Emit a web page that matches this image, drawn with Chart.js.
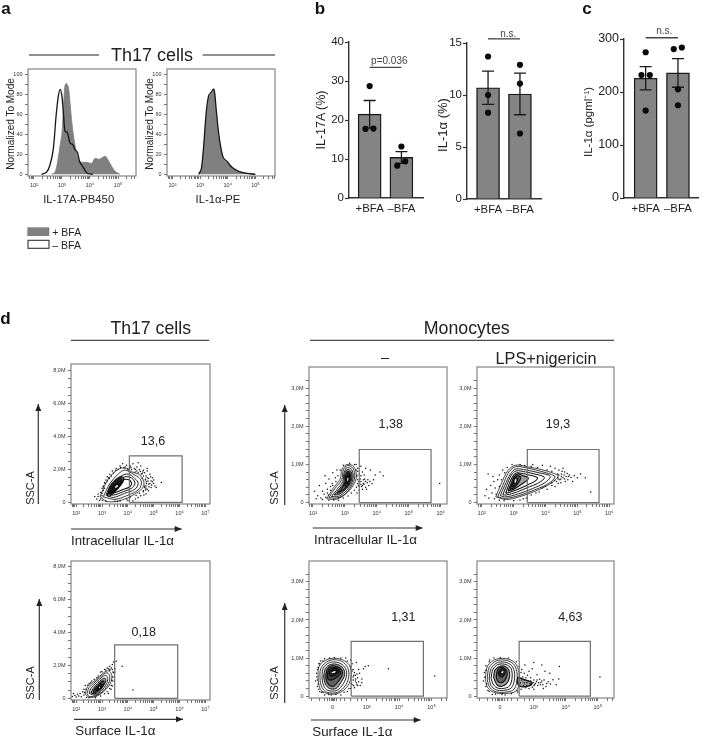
<!DOCTYPE html>
<html lang="en">
  <head>
    <meta charset="UTF-8" />
    <title>Th17 cells and monocytes IL-1α</title>
    <script src="https://cdn.jsdelivr.net/npm/chart.js"></script>
    <style>
      body { margin: 0; background: #fff; }
      #page { position: relative; width: 702px; height: 737px; overflow: hidden; font-family: "Liberation Sans", Arial, sans-serif; color: #222; filter: blur(0.35px); }
      #page canvas, #page svg { position: absolute; }
      .t { position: absolute; white-space: nowrap; line-height: 1; }
    </style>
  </head>
  <body>
    <div id="page"></div>

    <script>
      // bar panels
      const bfaLabels = ["+BFA", "–BFA"];
      const il17Means = [21.5, 10.4];
      const il17Low = [17.9, 8.9];
      const il17High = [25, 11.9];
      const il17Dots = [[0, 28.7], [-0.13, 17.7], [0.12, 17.8], [1, 13.2], [0.87, 8.3], [1.12, 9.4]];
      const il1Means = [10.7, 10.1];
      const il1Low = [9.1, 8.1];
      const il1High = [12.3, 12.1];
      const il1Dots = [[0, 13.7], [0, 10], [0, 8.3], [1, 12.9], [1, 11.1], [1, 6.3]];
      const pgmlMeans = [226, 236];
      const pgmlLow = [204, 209];
      const pgmlHigh = [248, 263];
      const pgmlDots = [[0, 275], [-0.13, 232], [0.13, 232], [0, 165], [0.87, 281], [1.12, 284], [1, 205], [1, 175]];

      // histograms, x is log10 of the intensity
      const il17Grey = [[2.63, 0], [2.75, 2], [2.83, 10], [2.93, 28], [3, 41], [3.05, 65], [3.1, 87], [3.15, 91], [3.23, 87], [3.29, 71], [3.36, 50], [3.46, 30], [3.58, 15], [3.7, 12], [3.88, 12], [4.06, 11], [4.18, 16], [4.33, 15], [4.54, 18], [4.65, 14], [4.77, 8], [4.89, 3], [5.07, 0]];
      const il17Black = [[2.27, 0], [2.45, 2], [2.57, 9], [2.69, 25], [2.79, 58], [2.87, 78], [2.94, 85], [3, 78], [3.05, 62], [3.11, 43], [3.19, 42], [3.29, 31], [3.38, 30], [3.46, 25], [3.55, 22], [3.64, 12], [3.76, 7], [3.9, 1], [4.1, 0]];
      const il1Grey = [[2.96, 0], [3.05, 5], [3.14, 28], [3.23, 60], [3.33, 78], [3.41, 81], [3.5, 83], [3.57, 64], [3.65, 42], [3.74, 26], [3.83, 15], [3.95, 12], [4.13, 7], [4.37, 3], [4.67, 1], [4.97, 0]];
      const il1Black = [[2.94, 0], [3.04, 5], [3.13, 29], [3.22, 62], [3.31, 79], [3.4, 82], [3.5, 85], [3.58, 65], [3.67, 41], [3.76, 25], [3.85, 16], [3.97, 13], [4.15, 7], [4.4, 3], [4.7, 1], [5, 0]];

      // contour outlines, outer ring first
      const d1Contours = [
        [[2.92, 0.34], [3.18, 1.25], [3.5, 1.86], [3.82, 2.1], [4.14, 1.86], [4.46, 1.66], [4.62, 1.25], [4.56, 0.85], [4.2, 0.44], [3.76, 0.14], [3.24, 0.04]],
        [[3.05, 0.34], [3.31, 1.15], [3.63, 1.72], [3.88, 1.96], [4.2, 1.72], [4.46, 1.45], [4.53, 1.15], [4.4, 0.75], [4.01, 0.44], [3.5, 0.18]],
        [[3.15, 0.44], [3.37, 1.15], [3.69, 1.56], [4.01, 1.72], [4.27, 1.45], [4.4, 1.15], [4.27, 0.79], [3.88, 0.55], [3.44, 0.3]],
        [[3.24, 0.55], [3.44, 1.11], [3.72, 1.45], [4.01, 1.56], [4.23, 1.35], [4.27, 1.11], [4.14, 0.85], [3.82, 0.65], [3.44, 0.44]],
        [[3.31, 0.59], [3.5, 1.05], [3.76, 1.35], [4.01, 1.39], [4.14, 1.19], [4.08, 0.95], [3.76, 0.75], [3.5, 0.59]],
        [[3.2, 0.4], [3.3, 0.9], [3.5, 1.3], [3.75, 1.55], [3.85, 1.4], [3.7, 1], [3.5, 0.65], [3.3, 0.38]],
        [[3.25, 0.5], [3.35, 0.9], [3.52, 1.2], [3.72, 1.42], [3.78, 1.25], [3.62, 0.95], [3.45, 0.65]],
        [[3.3, 0.55], [3.4, 0.9], [3.55, 1.15], [3.7, 1.3], [3.7, 1.12], [3.55, 0.85], [3.4, 0.6]],
        [[3.36, 0.65], [3.45, 0.9], [3.58, 1.08], [3.66, 1.15], [3.6, 0.95], [3.46, 0.72]],
      ];
      const d2Contours = [
        [[2.43, 0.1], [2.62, 0.36], [2.85, 0.62], [2.91, 0.88], [3.08, 1], [3.29, 0.93], [3.36, 0.67], [3.26, 0.45], [3.03, 0.23], [2.74, 0.09]],
        [[2.5, 0.13], [2.68, 0.36], [2.9, 0.6], [2.95, 0.85], [3.08, 0.97], [3.25, 0.9], [3.31, 0.67], [3.2, 0.43], [3, 0.22], [2.75, 0.12]],
        [[2.58, 0.16], [2.74, 0.33], [2.93, 0.55], [2.98, 0.8], [3.08, 0.92], [3.22, 0.85], [3.26, 0.65], [3.15, 0.42], [2.98, 0.26], [2.78, 0.16]],
        [[2.66, 0.2], [2.8, 0.33], [2.96, 0.52], [3, 0.75], [3.08, 0.87], [3.2, 0.8], [3.22, 0.63], [3.12, 0.44], [2.96, 0.3], [2.8, 0.21]],
        [[2.75, 0.24], [2.88, 0.35], [3, 0.52], [3.03, 0.72], [3.09, 0.82], [3.17, 0.76], [3.18, 0.6], [3.08, 0.45], [2.95, 0.33]],
        [[3, 0.42], [3.05, 0.68], [3.1, 0.78], [3.15, 0.7], [3.14, 0.55], [3.06, 0.42]],
        [[3.04, 0.5], [3.07, 0.66], [3.11, 0.72], [3.13, 0.65], [3.1, 0.52]],
        [[3.06, 0.55], [3.09, 0.68], [3.12, 0.62], [3.09, 0.53]],
      ];
      const d3Contours = [
        [[2.44, 0.15], [2.61, 0.49], [2.82, 0.84], [3.07, 0.98], [3.48, 0.93], [3.89, 0.86], [4.24, 0.77], [4.4, 0.69], [4.14, 0.49], [3.68, 0.3], [3.17, 0.15], [2.77, 0.08]],
        [[2.5, 0.15], [2.66, 0.45], [2.85, 0.8], [3.07, 0.94], [3.45, 0.9], [3.85, 0.82], [4.2, 0.73], [4.3, 0.67], [4.1, 0.5], [3.65, 0.33], [3.15, 0.18], [2.75, 0.11]],
        [[2.58, 0.18], [2.72, 0.45], [2.9, 0.75], [3.07, 0.88], [3.4, 0.85], [3.8, 0.78], [4.1, 0.72], [4.15, 0.66], [3.98, 0.52], [3.6, 0.37], [3.12, 0.22], [2.75, 0.15]],
        [[2.66, 0.2], [2.78, 0.45], [2.93, 0.72], [3.08, 0.83], [3.38, 0.8], [3.7, 0.74], [3.95, 0.68], [3.95, 0.62], [3.75, 0.5], [3.45, 0.4], [3.08, 0.27], [2.78, 0.2]],
        [[2.75, 0.24], [2.85, 0.47], [2.97, 0.68], [3.1, 0.78], [3.35, 0.75], [3.6, 0.7], [3.75, 0.65], [3.65, 0.55], [3.4, 0.45], [3.05, 0.32]],
        [[2.82, 0.3], [2.92, 0.5], [3.02, 0.68], [3.15, 0.75], [3.3, 0.7], [3.45, 0.66], [3.42, 0.58], [3.25, 0.48], [3, 0.35]],
        [[2.88, 0.35], [2.97, 0.52], [3.05, 0.66], [3.15, 0.7], [3.22, 0.65], [3.15, 0.52], [3, 0.38]],
        [[2.94, 0.42], [3.02, 0.56], [3.09, 0.64], [3.13, 0.62], [3.08, 0.5], [2.98, 0.42]],
      ];
      const d4Contours = [
        [[2.35, 0.26], [2.44, 0.7], [2.74, 1.1], [3.06, 1.55], [3.25, 1.67], [3.38, 1.41], [3.32, 0.91], [3.06, 0.4], [2.74, 0.1], [2.48, 0.08]],
        [[2.42, 0.28], [2.5, 0.65], [2.77, 1.05], [3.05, 1.45], [3.2, 1.55], [3.3, 1.35], [3.25, 0.9], [3.03, 0.42], [2.74, 0.15], [2.5, 0.12]],
        [[2.5, 0.3], [2.57, 0.6], [2.8, 0.98], [3.03, 1.32], [3.15, 1.4], [3.22, 1.22], [3.17, 0.88], [2.98, 0.45], [2.73, 0.2]],
        [[2.57, 0.33], [2.65, 0.58], [2.83, 0.9], [3.02, 1.18], [3.12, 1.22], [3.15, 1.08], [3.08, 0.82], [2.93, 0.47], [2.73, 0.27]],
        [[2.65, 0.38], [2.72, 0.58], [2.87, 0.83], [3, 1.02], [3.07, 1.05], [3.07, 0.88], [2.97, 0.65], [2.85, 0.47], [2.72, 0.33]],
        [[2.72, 0.44], [2.8, 0.6], [2.9, 0.78], [2.98, 0.88], [3.01, 0.8], [2.95, 0.63], [2.83, 0.48]],
        [[2.8, 0.52], [2.87, 0.66], [2.93, 0.74], [2.96, 0.68], [2.88, 0.55]],
      ];
      const d5Contours = [
        [[1.5, 0.4], [1.53, 0.79], [1.81, 0.97], [2.16, 0.98], [2.45, 0.83], [2.52, 0.57], [2.42, 0.27], [2.11, 0.07], [1.76, 0.07], [1.57, 0.18]],
        [[1.56, 0.4], [1.58, 0.72], [1.83, 0.93], [2.15, 0.94], [2.38, 0.8], [2.45, 0.57], [2.36, 0.3], [2.1, 0.1], [1.78, 0.1], [1.62, 0.22]],
        [[1.62, 0.45], [1.65, 0.72], [1.85, 0.88], [2.12, 0.88], [2.32, 0.76], [2.38, 0.57], [2.28, 0.33], [2.08, 0.15], [1.8, 0.15], [1.67, 0.27]],
        [[1.67, 0.5], [1.72, 0.72], [1.88, 0.83], [2.1, 0.83], [2.27, 0.73], [2.32, 0.57], [2.22, 0.38], [2.05, 0.2], [1.85, 0.2], [1.72, 0.32]],
        [[1.73, 0.5], [1.78, 0.7], [1.9, 0.79], [2.08, 0.78], [2.22, 0.7], [2.25, 0.58], [2.15, 0.42], [2, 0.27], [1.87, 0.27], [1.77, 0.37]],
        [[1.78, 0.55], [1.83, 0.69], [1.95, 0.75], [2.08, 0.74], [2.18, 0.66], [2.18, 0.58], [2.05, 0.48], [1.9, 0.42], [1.8, 0.45]],
        [[1.83, 0.58], [1.9, 0.69], [2, 0.72], [2.1, 0.7], [2.13, 0.63], [2.03, 0.56], [1.9, 0.52]],
        [[1.9, 0.6], [1.97, 0.67], [2.05, 0.67], [2.08, 0.63], [2, 0.59]],
      ];
      const d6Contours = [
        [[1.48, 0.44], [1.55, 0.79], [1.82, 0.97], [2.2, 0.97], [2.45, 0.83], [2.55, 0.49], [2.45, 0.14], [2.09, 0.07], [1.74, 0.1], [1.55, 0.23]],
        [[1.54, 0.44], [1.6, 0.75], [1.84, 0.93], [2.18, 0.93], [2.4, 0.8], [2.48, 0.5], [2.38, 0.18], [2.08, 0.1], [1.76, 0.13], [1.6, 0.26]],
        [[1.6, 0.45], [1.66, 0.72], [1.86, 0.88], [2.15, 0.88], [2.34, 0.76], [2.4, 0.5], [2.3, 0.22], [2.06, 0.15], [1.8, 0.17], [1.66, 0.28]],
        [[1.66, 0.47], [1.72, 0.7], [1.88, 0.83], [2.12, 0.83], [2.28, 0.73], [2.32, 0.5], [2.24, 0.27], [2.04, 0.2], [1.84, 0.22], [1.72, 0.32]],
        [[1.74, 0.48], [1.78, 0.68], [1.92, 0.78], [2.1, 0.78], [2.22, 0.68], [2.24, 0.5], [2.14, 0.32], [2, 0.26], [1.86, 0.28]],
        [[1.82, 0.5], [1.86, 0.68], [1.96, 0.75], [2.08, 0.73], [2.16, 0.64], [2.14, 0.48], [2.02, 0.36], [1.88, 0.38]],
        [[1.88, 0.58], [1.93, 0.68], [2.02, 0.72], [2.1, 0.67], [2.08, 0.56], [1.98, 0.5]],
        [[1.93, 0.6], [2, 0.67], [2.05, 0.65], [2.03, 0.58], [1.97, 0.56]],
        [[2.5, 0.5], [2.75, 0.42], [2.95, 0.35], [2.85, 0.27], [2.6, 0.25], [2.48, 0.35]],
      ];

      // pale spots in the middle of the densest rings
      const d1Hole = [[3.5, 0.95], [3.6, 1.05], [3.62, 0.98], [3.52, 0.88]];
      const d2Hole = [[3.07, 0.6], [3.09, 0.66], [3.11, 0.62], [3.09, 0.56]];
      const d3Hole = [[3.02, 0.55], [3.06, 0.62], [3.09, 0.6], [3.05, 0.52]];
      const d4Hole = [[2.88, 0.66], [2.9, 0.7], [2.93, 0.68], [2.9, 0.63]];
      const d5Hole = [[1.9, 0.61], [1.98, 0.65], [2.05, 0.65], [2, 0.61]];
      const d6Hole = [[1.98, 0.62], [2.02, 0.66], [2.05, 0.64], [2.01, 0.6]];

      // single events outside the outer ring
      const d1Dots = [[2.72, 0.35], [2.8, 0.2], [2.85, 0.5], [2.9, 0.12], [2.95, 0.6], [3, 0.85], [3.05, 0.95], [3.1, 1.2], [3.15, 1.35], [3.25, 1.5], [3.3, 1.7], [3.4, 1.9], [3.55, 2.05], [3.7, 2.2], [3.8, 2.35], [3.95, 2.25], [4.1, 2.2], [4.25, 2.05], [4.35, 2.15], [4.45, 2], [4.5, 2.2], [4.6, 1.95], [4.65, 1.8], [4.7, 1.6], [4.75, 1.9], [4.8, 1.45], [4.85, 1.7], [4.9, 1.3], [4.95, 1.5], [5, 1.15], [5.05, 1], [5.1, 0.9], [4.9, 0.9], [4.8, 0.7], [4.7, 0.5], [4.6, 0.65], [4.5, 0.4], [4.4, 0.3], [4.3, 0.2], [4.65, 1], [4.72, 1.15], [4.55, 1.75], [4.35, 1.9], [4, 2.05], [3.85, 2.1], [5.3, 1.2], [4.2, 2.35], [4.4, 2.4], [4.75, 2.05], [4.2, 0.1], [4, 0.12], [3.6, 0.05], [4.85, 1.15], [4.95, 1.25], [4.78, 1.3], [4.68, 1.4], [4.88, 1.55], [4.7, 0.85], [4.62, 0.45], [3.2, 1.55], [3.1, 0.85], [3, 0.4],
        [3.05, 1], [3.12, 1.15], [3.2, 1.3], [3.28, 1.45], [3.36, 1.6], [3.44, 1.78], [3.52, 1.95], [3.62, 2], [3.72, 2.12], [3.9, 2.15], [4.05, 2], [4.15, 1.98], [4.28, 1.85], [4.4, 1.8], [4.52, 1.72], [4.6, 1.6], [4.68, 1.35], [4.72, 1.25], [4.7, 1], [4.68, 0.75], [4.6, 0.7], [4.45, 0.55], [4.32, 0.42], [4.1, 0.32], [3.95, 0.2], [3.7, 0.08], [3.5, 0.06], [3.15, 0.05], [3.02, 0.12], [2.95, 0.2], [2.85, 0.35], [3, 0.55], [3.05, 0.72], [4.55, 1.45], [4.75, 1.5], [4.58, 1.85], [4.48, 1.88], [4.3, 2], [4.12, 2.1], [4.8, 1.1], [4.82, 0.95], [4.75, 0.8], [4.92, 1.05], [5, 1.35], [4.65, 0.9]];
      const d2Dots = [[2.1, 0.1], [2.05, 0.3], [2.15, 0.18], [2.2, 0.45], [2.25, 0.12], [2.3, 0.3], [2.35, 0.22], [2.4, 0.5], [2.45, 0.35], [2.5, 0.62], [2.38, 0.7], [2.6, 0.5], [2.55, 0.42], [2.7, 0.65], [2.62, 0.78], [2.75, 0.85], [2.3, 0.08], [2.48, 0.2], [3.4, 0.9], [3.45, 0.75], [3.5, 0.95], [3.55, 0.8], [3.6, 0.72], [3.65, 0.9], [3.72, 0.6], [3.8, 0.85], [3.4, 0.5], [3.45, 0.42], [3.5, 0.55], [3.55, 0.35], [3.6, 0.48], [3.65, 0.4], [3.7, 0.52], [3.75, 0.45], [3.85, 0.5], [3.9, 0.6], [3.45, 0.32], [3.38, 0.25], [3.95, 0.72], [4.1, 0.8], [4.2, 0.7], [5.97, 0.5], [3.35, 1], [3.48, 0.62], [3.58, 0.6], [3.62, 0.62],
        [3.38, 0.7], [3.4, 0.6], [3.4, 0.82], [3.35, 0.85], [3.42, 0.45], [3.36, 0.4], [3.3, 0.32], [3.2, 0.25], [3.1, 0.17], [2.95, 0.12], [2.8, 0.06], [2.65, 0.07], [2.5, 0.06], [2.4, 0.14], [2.45, 0.25], [2.55, 0.32], [2.62, 0.45], [2.72, 0.55], [2.78, 0.7], [2.85, 0.85], [2.95, 0.98], [3.15, 1.03], [3.3, 1], [3.5, 0.7], [3.52, 0.42], [3.58, 0.5], [3.65, 0.55], [3.68, 0.35], [3.78, 0.55], [3.44, 0.55], [3.5, 0.48], [3.55, 0.45]];
      const d3Dots = [[2.1, 0.18], [2.15, 0.35], [2.22, 0.12], [2.28, 0.45], [2.32, 0.25], [2.38, 0.55], [2.42, 0.38], [2.5, 0.6], [2.55, 0.72], [2.35, 0.68], [2.66, 0.85], [2.2, 0.75], [4.45, 0.6], [4.5, 0.75], [4.55, 0.65], [4.6, 0.8], [4.65, 0.68], [4.7, 0.6], [4.75, 0.72], [4.8, 0.66], [4.85, 0.55], [4.9, 0.7], [5, 0.65], [4.42, 0.85], [4.3, 0.9], [4.15, 0.95], [3.9, 0.98], [3.6, 1], [3.7, 0.25], [3.9, 0.38], [4.05, 0.35], [4.2, 0.45], [4.3, 0.42], [4.4, 0.5], [3.4, 0.12], [3.2, 0.07], [5.42, 0.28], [5.1, 0.75], [5.25, 0.65], [4.55, 0.9], [4.48, 0.52], [4.35, 0.55],
        [2.4, 0.1], [2.45, 0.22], [2.55, 0.42], [2.62, 0.6], [2.72, 0.78], [2.8, 0.92], [2.95, 1], [3.2, 1], [3.35, 0.97], [3.55, 0.95], [3.75, 0.92], [4.05, 0.85], [4.2, 0.82], [4.38, 0.75], [4.5, 0.68], [4.6, 0.62], [4.72, 0.68], [4.48, 0.62], [4.58, 0.72], [4.4, 0.62], [4.28, 0.58], [4.2, 0.52], [4, 0.42], [3.8, 0.28], [3.55, 0.2], [3.3, 0.1], [3, 0.05], [2.7, 0.05], [2.55, 0.06], [4.42, 0.72], [4.52, 0.82], [4.68, 0.76], [4.38, 0.66], [4.62, 0.55]];
      const d4Dots = [[1.85, 0.12], [1.9, 0.3], [1.95, 0.18], [2, 0.08], [2.05, 0.25], [2.1, 0.15], [2.15, 0.3], [2.2, 0.1], [2.25, 0.4], [2.3, 0.55], [2.35, 0.78], [2.5, 0.88], [2.6, 1.05], [2.8, 1.25], [2.95, 1.6], [3.1, 1.75], [3.2, 1.85], [3.3, 1.95], [3.4, 2.05], [3.45, 2.2], [3.5, 1.8], [3.45, 1.55], [3.48, 1.3], [3.42, 1.05], [3.4, 0.75], [3.35, 0.55], [3.25, 0.3], [3.55, 2.25], [3.78, 1.95], [4.2, 0.5], [3.3, 1.75], [3.5, 1.6],
        [2.3, 0.2], [2.32, 0.35], [2.38, 0.55], [2.45, 0.8], [2.55, 0.95], [2.7, 1.15], [2.85, 1.35], [3, 1.62], [3.15, 1.72], [3.3, 1.7], [3.42, 1.6], [3.42, 1.3], [3.38, 1.1], [3.36, 0.8], [3.3, 0.6], [3.2, 0.4], [3.1, 0.28], [2.95, 0.15], [2.75, 0.04], [2.5, 0.03], [2.4, 0.05], [3.36, 1.85], [3.4, 1.75], [3.25, 1.8]];
      const d5Dots = [[1.42, 0.4], [1.45, 0.6], [1.48, 0.25], [1.5, 0.75], [1.52, 0.18], [1.55, 0.85], [1.6, 0.1], [1.65, 0.92], [1.7, 0.03], [1.9, 0.03], [2.2, 0.03], [2.4, 0.12], [2.5, 0.2], [2.55, 0.3], [2.58, 0.42], [2.6, 0.55], [2.58, 0.7], [2.55, 0.85], [2.5, 0.95], [2.7, 0.3], [2.65, 0.4], [2.75, 0.38], [2.8, 0.28], [2.72, 0.48], [2.85, 0.45], [2.9, 0.72], [2.95, 0.78], [2.62, 0.22], [2.78, 0.6], [3.05, 0.8], [3.67, 0.72], [5.1, 0.53], [2.35, 1], [2.68, 0.88],
        [1.46, 0.5], [1.48, 0.7], [1.5, 0.32], [1.52, 0.85], [1.58, 0.92], [1.7, 0.98], [1.85, 1], [2, 1.01], [2.2, 1], [2.4, 0.92], [2.5, 0.78], [2.55, 0.66], [2.58, 0.5], [2.52, 0.33], [2.45, 0.2], [2.3, 0.1], [2.05, 0.04], [1.82, 0.04], [1.65, 0.1], [1.55, 0.12], [1.48, 0.42], [2.62, 0.62], [2.68, 0.35], [2.66, 0.45], [2.72, 0.28], [2.6, 0.27], [2.65, 0.55], [2.75, 0.7], [2.85, 0.35], [2.7, 0.58]];
      const d6Dots = [[1.42, 0.4], [1.45, 0.62], [1.5, 0.25], [1.5, 0.8], [1.56, 0.15], [1.6, 0.9], [1.7, 0.04], [2.1, 0.03], [2.5, 0.1], [2.6, 0.18], [2.65, 0.5], [2.7, 0.6], [2.75, 0.22], [2.8, 0.55], [2.85, 0.2], [2.9, 0.48], [2.95, 0.23], [3, 0.42], [3.02, 0.3], [3.08, 0.38], [3.12, 0.28], [3.18, 0.44], [3.22, 0.35], [3.28, 0.3], [3.32, 0.42], [3.38, 0.25], [3.45, 0.38], [3.52, 0.32], [3.6, 0.43], [3.7, 0.3], [3.78, 0.45], [2.72, 0.82], [2.95, 0.72], [3, 0.88], [3.25, 0.82], [3.5, 0.6], [3.8, 0.78], [3.35, 0.65], [3.1, 0.56], [2.85, 0.65], [2.62, 0.7], [5.07, 0.5], [2.58, 0.35], [2.68, 0.28], [2.78, 0.35], [3, 0.18], [3.3, 0.2],
        [1.46, 0.5], [1.5, 0.68], [1.52, 0.32], [1.6, 0.12], [1.62, 0.95], [1.75, 1], [1.95, 1.01], [2.2, 1], [2.45, 0.9], [2.55, 0.78], [2.6, 0.62], [2.62, 0.42], [2.55, 0.25], [2.48, 0.14], [2.3, 0.06], [2, 0.04], [1.8, 0.05], [2.7, 0.35], [2.75, 0.48], [2.82, 0.4], [2.88, 0.33], [2.92, 0.3], [2.98, 0.36], [3.05, 0.33], [3.1, 0.42], [3.15, 0.35], [3.2, 0.3], [3.25, 0.4], [3.4, 0.33], [2.7, 0.42], [2.78, 0.28], [2.9, 0.4], [3, 0.27]];

      // gates, [xLeft, xRight, yTop]
      const d1Gate = [4.06, 6.1, 2.82];
      const d2Gate = [3.45, 5.7, 1.39];
      const d3Gate = [3.43, 5.68, 1.39];
      const d4Gate = [3.49, 5.93, 3.25];
      const d5Gate = [2.52, 4.75, 1.44];
      const d6Gate = [2.54, 4.77, 1.44];

      // tick labels
      const pctTicks = [0, 20, 40, 60, 80, 100];
      const ssc8Ticks = { 0: "0", 2: "2,0M", 4: "4,0M", 6: "6,0M", 8: "8,0M" };
      const ssc3Ticks = { 0: "0", 1: "1,0M", 2: "2,0M", 3: "3,0M" };
      const logLabels = { 2: "10²", 3: "10³", 4: "10⁴", 5: "10⁵", 6: "10⁶", 7: "10⁷" };
      const biexLabels = { 1.94: "0", 3: "10³", 4: "10⁴", 5: "10⁵" };
      const biexNearZero = [1.3, 1.55, 1.7, 1.8, 1.86, 1.9, 1.94, 1.98, 2.02, 2.08, 2.18, 2.3, 2.5, 2.7, 2.85];

      const page = document.getElementById("page");
      const FONT = '"Liberation Sans", Arial, sans-serif';
      Chart.defaults.font.family = FONT;
      Chart.defaults.animation = false;
      Chart.defaults.responsive = false;

      const text = (str, x, y, size, opts = {}) => {
        const el = document.createElement("div");
        el.className = "t";
        el.textContent = str;
        const anchor = opts.left ? "0" : "-50%";
        const rot = opts.rotate ? " rotate(-90deg)" : "";
        el.style.cssText = `left:${x}px;top:${y}px;font-size:${size}px;transform:translate(${anchor},-50%)${rot};` +
          (opts.bold ? "font-weight:bold;color:#111;" : "") + (opts.color ? `color:${opts.color};` : "");
        page.appendChild(el);
      };

      const newCanvas = (x, y, w, h) => {
        const c = document.createElement("canvas");
        c.width = w;
        c.height = h;
        c.style.left = x + "px";
        c.style.top = y + "px";
        page.appendChild(c);
        return c;
      };

      const xy = (pts) => pts.map((p) => ({ x: p[0], y: p[1] }));
      const closed = (pts) => xy([...pts, pts[0]]);

      // stops chart.js insetting the plot for tick label overhang
      const fixSize = (scale, prop, value) => {
        scale[prop] = value;
        scale.paddingTop = scale.paddingBottom = scale.paddingLeft = scale.paddingRight = 0;
      };

      const framePlugin = {
        id: "frame",
        afterDatasetsDraw(chart) {
          const { ctx, chartArea: a } = chart;
          ctx.save();
          ctx.strokeStyle = "#7a7a7a";
          ctx.lineWidth = 1.1;
          ctx.strokeRect(a.left, a.top, a.right - a.left, a.bottom - a.top);
          ctx.restore();
        },
      };

      const logTicks = (min, max) => {
        const out = [];
        for (let d = Math.floor(min); d <= max; d++) {
          for (let k = 1; k < 10; k++) {
            const v = d + Math.log10(k);
            if (v >= min && v <= max) out.push(k === 1 ? d : v);
          }
        }
        return out;
      };

      const flowChart = (box, xr, yr, xTicks, xLabels, yTicks, yLabels, datasets) => {
        const m = { l: 30, t: 6, r: 6, b: 22 };
        const c = newCanvas(box[0] - m.l, box[1] - m.t, box[2] - box[0] + m.l + m.r, box[3] - box[1] + m.t + m.b);
        return new Chart(c, {
          type: "scatter",
          data: { datasets },
          options: {
            layout: { padding: { top: m.t, right: m.r } },
            plugins: { legend: { display: false }, tooltip: { enabled: false } },
            scales: {
              x: {
                type: "linear", min: xr[0], max: xr[1],
                grid: { drawOnChartArea: false, tickLength: 3, tickColor: "#333", tickWidth: 0.7 },
                border: { display: false },
                ticks: { autoSkip: false, maxRotation: 0, padding: 3, color: "#333", font: { size: 5.5 }, callback: (v) => xLabels[v] ?? "" },
                afterBuildTicks: (s) => { s.ticks = xTicks.map((value) => ({ value })); },
                afterFit: (s) => fixSize(s, "height", m.b),
              },
              y: {
                type: "linear", min: yr[0], max: yr[1],
                grid: { drawOnChartArea: false, tickLength: 3, tickColor: "#333", tickWidth: 0.7 },
                border: { display: false },
                ticks: { autoSkip: false, padding: 2.5, color: "#333", font: { size: 5.5 }, callback: (v) => yLabels[v] ?? "" },
                afterBuildTicks: (s) => { s.ticks = yTicks.map((value) => ({ value })); },
                afterFit: (s) => fixSize(s, "width", m.l),
              },
            },
          },
          plugins: [framePlugin],
        });
      };

      const histSets = (grey, black, withWhite) => {
        const sets = [
          { type: "line", data: xy(black), borderColor: "#151515", borderWidth: 1.3, pointRadius: 0, tension: 0.3, fill: false },
          { type: "line", data: xy(grey), borderColor: "#7d7d7d", borderWidth: 0.8, backgroundColor: "#808080", pointRadius: 0, tension: 0.3, fill: "origin" },
        ];
        if (withWhite) {
          sets.push({ type: "line", data: xy(black), borderColor: "#fff", borderWidth: 0, backgroundColor: "#fff", pointRadius: 0, tension: 0.3, fill: "origin" });
        }
        return sets;
      };

      // first dataset is painted last, so the innermost ring goes first
      const flowSets = (gate, dots, contours, coreFrom, hole) => [
        { data: closed(hole), showLine: true, tension: 0.35, pointRadius: 0, borderWidth: 0, backgroundColor: "#fff", fill: "shape" },
        { data: closed([[gate[0], 0], [gate[1], 0], [gate[1], gate[2]], [gate[0], gate[2]]]), showLine: true, borderColor: "#707070", borderWidth: 1.2, pointRadius: 0 },
        ...contours.map((ring, i) => ({
          data: closed(ring), showLine: true, tension: 0.35, pointRadius: 0,
          borderColor: "#0e0e0e", borderWidth: 0.75 + i * 0.08,
          fill: i >= coreFrom ? "shape" : false, backgroundColor: "rgba(0,0,0,0.38)",
        })).reverse(),
        { data: xy(dots), pointRadius: 0.75, pointBorderWidth: 0, pointBackgroundColor: "#111" },
      ];

      const errorPlugin = (low, high) => ({
        id: "errorBars",
        afterDatasetDraw(chart, args) {
          if (args.meta.type !== "bar") return;
          const { ctx, scales } = chart;
          ctx.save();
          ctx.strokeStyle = "#1a1a1a";
          ctx.lineWidth = 1.3;
          low.forEach((lo, i) => {
            const x = scales.x.getPixelForValue(i);
            const y0 = scales.y.getPixelForValue(lo);
            const y1 = scales.y.getPixelForValue(high[i]);
            ctx.beginPath();
            ctx.moveTo(x, y0); ctx.lineTo(x, y1);
            ctx.moveTo(x - 6, y0); ctx.lineTo(x + 6, y0);
            ctx.moveTo(x - 6, y1); ctx.lineTo(x + 6, y1);
            ctx.stroke();
          });
          ctx.restore();
        },
      });

      const barChart = (box, xr, yMax, yStep, yFont, means, low, high, dots, bracketY) => {
        const m = { l: 32, t: 14, b: 26 };
        const c = newCanvas(box[0] - m.l, box[1] - m.t, box[2] - box[0] + m.l, box[3] - box[1] + m.t + m.b);
        return new Chart(c, {
          data: {
            datasets: [
              { type: "scatter", data: xy(dots), pointRadius: 3.1, pointBackgroundColor: "#0a0a0a", pointBorderWidth: 0, clip: false },
              { type: "scatter", data: xy([[0, bracketY], [1, bracketY]]), showLine: true, borderColor: "#444", borderWidth: 1.3, pointRadius: 0, clip: false },
              { type: "bar", data: xy(means.map((v, i) => [i, v])), backgroundColor: "#848484", borderColor: "#1a1a1a", borderWidth: 1.4, barThickness: 23 },
            ],
          },
          options: {
            layout: { padding: { top: m.t } },
            plugins: { legend: { display: false }, tooltip: { enabled: false } },
            scales: {
              x: {
                type: "linear", min: xr[0], max: xr[1], offset: false,
                grid: { drawOnChartArea: false, drawTicks: false, offset: false },
                border: { color: "#333", width: 1.4 },
                ticks: { padding: 4, color: "#222", font: { size: 11.4 }, maxRotation: 0, autoSkip: false, callback: (v) => bfaLabels[v] ?? "" },
                afterBuildTicks: (s) => { s.ticks = [{ value: 0 }, { value: 1 }]; },
                afterFit: (s) => fixSize(s, "height", m.b),
              },
              y: {
                type: "linear", min: 0, max: yMax,
                grid: { drawOnChartArea: false, tickLength: 4, tickColor: "#333", tickWidth: 1.2 },
                border: { color: "#333", width: 1.4 },
                ticks: { stepSize: yStep, padding: 1, color: "#222", font: { size: yFont } },
                afterFit: (s) => fixSize(s, "width", m.l),
              },
            },
          },
          plugins: [errorPlugin(low, high)],
        });
      };

      // panel a
      const aTicksY = [];
      for (let v = 0; v <= 105; v += 10) aTicksY.push(v);
      const pctLabels = Object.fromEntries(pctTicks.map((v) => [v, String(v)]));
      const a1Range = [1.79, 5.64];
      const a2Range = [1.8, 5.71];
      flowChart([28, 69, 136.3, 176.7], a1Range, [-1.7, 105.3], logTicks(...a1Range), logLabels, aTicksY, pctLabels, histSets(il17Grey, il17Black, true));
      flowChart([166.7, 69, 275.3, 176.7], a2Range, [-1.7, 105.3], logTicks(...a2Range), logLabels, aTicksY, pctLabels, histSets(il1Grey, il1Black, false));

      // panel b and c
      barChart([349, 42.3, 427, 199], [-0.65, 1.68], 40, 10, 11.5, il17Means, il17Low, il17High, il17Dots, 33.5);
      barChart([467.3, 43.3, 545.7, 199.3], [-0.66, 1.66], 15, 5, 11.5, il1Means, il1Low, il1High, il1Dots, 15.4);
      barChart([624, 39, 702, 198.7], [-0.67, 1.62], 300, 100, 12.5, pgmlMeans, pgmlLow, pgmlHigh, pgmlDots, 302.4);

      // panel d
      const ssc8Y = [];
      for (let v = 0; v <= 8; v += 0.5) ssc8Y.push(v);
      const ssc3Y = [];
      for (let v = 0; v <= 3.4; v += 0.2) ssc3Y.push(Math.round(v * 10) / 10);
      const d1Range = [1.8, 7.18];
      const d2Range = [1.875, 6.2];
      const d3Range = [1.85, 6.15];
      const biexMinor = biexNearZero.concat(logTicks(3, 5.48));
      flowChart([71, 364, 210.7, 504], d1Range, [-0.1, 8.4], logTicks(...d1Range), logLabels, ssc8Y, ssc8Ticks, flowSets(d1Gate, d1Dots, d1Contours, 5, d1Hole));
      flowChart([309.3, 366.7, 447.3, 503.7], d2Range, [-0.037, 3.55], logTicks(...d2Range), logLabels, ssc3Y, ssc3Ticks, flowSets(d2Gate, d2Dots, d2Contours, 3, d2Hole));
      flowChart([477, 366.7, 614.7, 503.7], d3Range, [-0.037, 3.55], logTicks(...d3Range), logLabels, ssc3Y, ssc3Ticks, flowSets(d3Gate, d3Dots, d3Contours, 5, d3Hole));
      flowChart([71, 560.7, 210.7, 700], d1Range, [-0.1, 8.34], logTicks(...d1Range), logLabels, ssc8Y, ssc8Ticks, flowSets(d4Gate, d4Dots, d4Contours, 3, d4Hole));
      flowChart([309.3, 561.3, 447.3, 699], [1.217, 5.48], [-0.05, 3.55], biexMinor, biexLabels, ssc3Y, ssc3Ticks, flowSets(d5Gate, d5Dots, d5Contours, 3, d5Hole));
      flowChart([477, 561.3, 614.7, 699], [1.22, 5.51], [-0.05, 3.55], biexMinor, biexLabels, ssc3Y, ssc3Ticks, flowSets(d6Gate, d6Dots, d6Contours, 4, d6Hole));

      // rules and arrows on top of the charts
      const rules = [[29, 55, 99, 55], [202.7, 55, 275, 55], [71, 340.3, 209.3, 340.3], [310, 340.3, 614, 340.3]];
      const arrows = [
        [38.3, 504, 38.3, 404], [71, 529, 181.7, 529], [284.7, 505, 284.7, 405], [312.7, 528, 422.7, 528],
        [39.3, 700, 39.3, 599], [74, 719.3, 183, 719.3], [284.7, 703, 284.7, 603], [311, 720, 420.7, 720],
      ];
      let svg = '<svg width="702" height="737" style="left:0;top:0">';
      rules.forEach(([a, b, c, d]) => { svg += `<line x1="${a}" y1="${b}" x2="${c}" y2="${d}" stroke="#222" stroke-width="1"/>`; });
      arrows.forEach(([a, b, c, d]) => {
        svg += `<line x1="${a}" y1="${b}" x2="${c}" y2="${d}" stroke="#333" stroke-width="1.2"/>`;
        svg += a === c
          ? `<polygon points="${c - 3},${d + 7} ${c + 3},${d + 7} ${c},${d}" fill="#222"/>`
          : `<polygon points="${c - 7},${d - 3} ${c - 7},${d + 3} ${c},${d}" fill="#222"/>`;
      });
      svg += '<rect x="27.3" y="227.3" width="22" height="8.7" fill="#808080"/>';
      svg += '<rect x="28" y="240.3" width="21" height="8" fill="#fff" stroke="#333" stroke-width="1.1"/>';
      svg += "</svg>";
      page.insertAdjacentHTML("beforeend", svg);

      // panel letters
      text("a", 6, 8, 17, { bold: true });
      text("b", 320, 8, 17, { bold: true });
      text("c", 587, 8, 17, { bold: true });
      text("d", 5.5, 318, 17, { bold: true });

      // panel a text
      text("Th17 cells", 152, 54.5, 18);
      text("Normalized To Mode", 10.7, 124, 10, { rotate: true });
      text("Normalized To Mode", 150, 124, 10, { rotate: true });
      text("IL-17A-PB450", 78.7, 200, 11.3);
      text("IL-1α-PE", 218, 200, 11.3);
      text("+ BFA", 52.3, 232, 10.5, { left: true });
      text("– BFA", 52.3, 244.5, 10.5, { left: true });

      // panel b and c text
      text("IL-17A (%)", 320.7, 120, 12.5, { rotate: true });
      text("IL-1α (%)", 441.7, 125, 13, { rotate: true });
      text("IL-1α (pgml⁻¹)", 589, 122, 11.5, { rotate: true });
      text("p=0.036", 389.3, 60.7, 10, { color: "#444" });
      text("n.s.", 508.3, 34.3, 10, { color: "#444" });
      text("n.s.", 664.3, 31, 10, { color: "#444" });

      // panel d text
      text("Th17 cells", 150.7, 329, 17.7);
      text("Monocytes", 466.7, 329, 17.8);
      text("–", 385, 357, 14.5);
      text("LPS+nigericin", 546, 357.7, 16.3);
      text("13,6", 153, 440.7, 12.5);
      text("1,38", 390.7, 423.7, 12.5);
      text("19,3", 558, 423.7, 12.5);
      text("0,18", 143.7, 631.7, 12.5);
      text("1,31", 403.3, 617, 12.5);
      text("4,63", 570.3, 617, 12.5);
      text("SSC-A", 30, 487.7, 11, { rotate: true });
      text("SSC-A", 274, 488, 11, { rotate: true });
      text("SSC-A", 30, 682.7, 11, { rotate: true });
      text("SSC-A", 274, 683, 11, { rotate: true });
      text("Intracellular IL-1α", 71, 540.7, 13.3, { left: true });
      text("Intracellular IL-1α", 314, 540, 13.3, { left: true });
      text("Surface IL-1α", 75.3, 731, 13.3, { left: true });
      text("Surface IL-1α", 312.3, 732, 13.3, { left: true });
    </script>
  </body>
</html>
